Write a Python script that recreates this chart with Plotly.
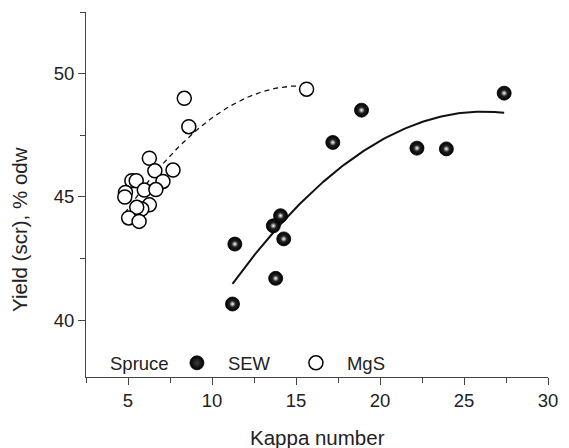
import numpy as np
import plotly.graph_objects as go

# SEW (filled spheres)
sew_kappa = [11.22, 11.36, 13.65, 14.08, 14.27, 13.79, 17.19, 18.90, 22.20, 23.95, 27.39]
sew_yield = [40.66, 43.09, 43.83, 44.24, 43.30, 41.70, 47.21, 48.52, 46.98, 46.95, 49.21]

# MgS (open circles)
mgs_kappa = [8.35, 8.62, 6.27, 6.60, 7.68, 7.08, 5.23, 5.49, 5.97, 6.66, 4.85, 4.81,
             6.27, 5.82, 5.52, 5.04, 5.66, 15.63]
mgs_yield = [49.00, 47.85, 46.57, 46.06, 46.09, 45.63, 45.66, 45.66, 45.28, 45.30, 45.18, 45.00,
             44.68, 44.51, 44.58, 44.15, 44.01, 49.37]

x_ticks = [5, 10, 15, 20, 25, 30]
y_ticks = [40, 45, 50]

FONT = "Liberation Sans, Arial, Helvetica, sans-serif"
TICK_SIZE = 18.5
TITLE_SIZE = 20.5

# quadratic regression curves over each data range
def fit_curve(xs, ys):
    c = np.polyfit(xs, ys, 2)
    gx = np.linspace(min(xs), max(xs), 120)
    return gx, np.polyval(c, gx)

sx, sy = fit_curve(sew_kappa, sew_yield)
mx, my = fit_curve(mgs_kappa, mgs_yield)

fig = go.Figure()
fig.add_trace(go.Scatter(x=mx, y=my, mode="lines", showlegend=False, hoverinfo="skip",
                         line=dict(color="#111", width=1.3, dash="5px,4px")))
fig.add_trace(go.Scatter(x=sx, y=sy, mode="lines", showlegend=False, hoverinfo="skip",
                         line=dict(color="#111", width=2)))

# shaded spheres: radial gradient (center = gradient.color, edge = marker.color)
fig.add_trace(go.Scatter(x=sew_kappa, y=sew_yield, mode="markers", name="SEW",
                         marker=dict(size=14, color="#000000", symbol="circle",
                                     gradient=dict(type="radial", color="#3c3c3c"),
                                     line=dict(color="#000", width=0.8))))
fig.add_trace(go.Scatter(x=sew_kappa, y=sew_yield, mode="markers", showlegend=False,
                         hoverinfo="skip",
                         marker=dict(size=6, color="#2c2c2c",
                                     gradient=dict(type="radial", color="#ffffff"),
                                     line=dict(width=0))))
fig.add_trace(go.Scatter(x=mgs_kappa, y=mgs_yield, mode="markers", name="MgS",
                         marker=dict(size=14, color="white", symbol="circle",
                                     line=dict(color="#000", width=1.5))))

axis_common = dict(showline=True, linecolor="#444", linewidth=1, ticks="outside",
                   tickcolor="#444", ticklen=7, tickwidth=1, showgrid=False, zeroline=False,
                   tickfont=dict(family=FONT, size=TICK_SIZE, color="#222"))

fig.update_xaxes(range=[2.5, 30], tickvals=x_ticks, **axis_common,
                 minor=dict(ticks="outside", dtick=2.5, tick0=2.5, ticklen=5,
                            tickcolor="#444", showgrid=False))
fig.update_yaxes(range=[37.7, 52.5], tickvals=y_ticks, **axis_common,
                 minor=dict(ticks="outside", dtick=2.5, tick0=37.5, ticklen=5,
                            tickcolor="#444", showgrid=False))

fig.update_layout(
    width=569, height=448,
    margin=dict(l=86, r=11, t=12, b=71),
    paper_bgcolor="white", plot_bgcolor="white",
    font=dict(family=FONT, size=TICK_SIZE, color="#222"),
    legend=dict(orientation="h", x=0.173, y=0.0375, xanchor="left", yanchor="middle",
                bgcolor="rgba(0,0,0,0)", itemwidth=52, itemsizing="trace",
                entrywidth=52, entrywidthmode="pixels",
                font=dict(family=FONT, size=TICK_SIZE, color="#222")),
    annotations=[
        dict(text="Spruce", xref="paper", yref="paper", x=0.048, y=0.0375,
             xanchor="left", yanchor="middle", showarrow=False,
             font=dict(family=FONT, size=TICK_SIZE, color="#222")),
        dict(text="Kappa number", xref="paper", yref="paper", x=0.5, y=0,
             xanchor="center", yanchor="middle", yshift=-60, showarrow=False,
             font=dict(family=FONT, size=TITLE_SIZE, color="#222")),
        dict(text="Yield (scr), % odw", xref="paper", yref="paper", x=0, y=0.403,
             xanchor="center", yanchor="middle", xshift=-66, textangle=-90,
             showarrow=False, font=dict(family=FONT, size=TITLE_SIZE, color="#222")),
    ],
)

fig.write_html("out.html", post_script="document.body.style.margin='0';",
               config={"displayModeBar": False})
